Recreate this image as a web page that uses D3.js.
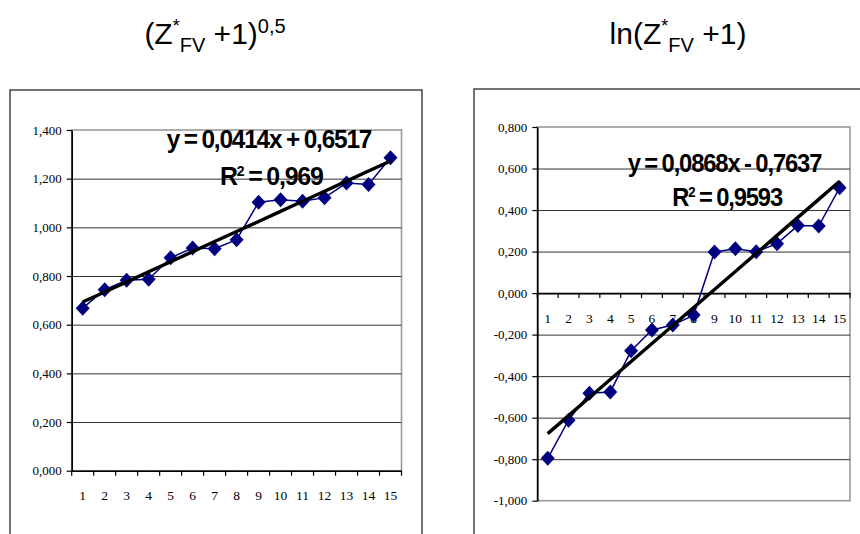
<!DOCTYPE html>
<html>
<head>
<meta charset="utf-8">
<script src="https://cdn.jsdelivr.net/npm/d3@7"></script>
<style>
  html, body { margin: 0; padding: 0; background: #ffffff; }
  svg { display: block; }
</style>
</head>
<body>
<svg id="chart" width="860" height="534"></svg>
<script>
// ---------------- data ----------------
const categories = ["1","2","3","4","5","6","7","8","9","10","11","12","13","14","15"];
const sqrtValues = [0.668, 0.744, 0.783, 0.787, 0.875, 0.915, 0.912, 0.949, 1.103, 1.113, 1.107, 1.122, 1.182, 1.176, 1.286];
const lnValues   = [-0.796, -0.612, -0.482, -0.476, -0.278, -0.178, -0.154, -0.106, 0.198, 0.214, 0.199, 0.238, 0.325, 0.323, 0.507];
const sqrtTicks  = [0, 0.2, 0.4, 0.6, 0.8, 1.0, 1.2, 1.4];
const lnTicks    = [-1.0, -0.8, -0.6, -0.4, -0.2, 0, 0.2, 0.4, 0.6, 0.8];
const sqrtTrend  = {slope: 0.0414, intercept: 0.6517};
const lnTrend    = {slope: 0.0868, intercept: -0.7637};
const sqrtEqText = "y = 0,0414x + 0,6517";
const sqrtR2Text = "0,969";
const lnEqText   = "y = 0,0868x - 0,7637";
const lnR2Text   = "0,9593";

const fmt = d => (d < 0 ? "-" : "") + Math.abs(d).toFixed(3).replace(".", ",");

const svg = d3.select("#chart");

function drawTitle(cx, parts) {
  const t = svg.append("text")
    .attr("x", cx).attr("y", 44)
    .attr("text-anchor", "middle")
    .attr("font-family", "Liberation Sans, Arial, sans-serif")
    .attr("font-size", 30)
    .attr("fill", "#000");
  parts.forEach(p => {
    const s = t.append("tspan").text(p.t);
    if (p.size) s.attr("font-size", p.size);
    if (p.dy !== undefined) s.attr("dy", p.dy);
  });
}

function fitText(x, baseline, width, build) {
  const g = svg.append("g");
  const t = g.append("text")
    .attr("x", 0).attr("y", 0)
    .attr("font-family", "Liberation Sans, Arial, sans-serif")
    .attr("font-weight", "bold")
    .attr("font-size", 25)
    .attr("letter-spacing", -1.2)
    .attr("word-spacing", -1)
    .attr("fill", "#000");
  build(t);
  const bb = t.node().getBBox();
  const sx = width / bb.width;
  g.attr("transform", `translate(${x - bb.x * sx},${baseline}) scale(${sx},1)`);
}

function drawChart(cfg) {
  // outer frame
  svg.append("rect")
    .attr("x", cfg.box[0]).attr("y", cfg.box[1])
    .attr("width", cfg.box[2]).attr("height", cfg.box[3])
    .attr("fill", "none").attr("stroke", "#2a2a2a").attr("stroke-width", 1.3);

  const x = d3.scaleBand().domain(categories).range([cfg.left, cfg.right]);
  const y = d3.scaleLinear().domain(cfg.domain).range([cfg.bottom, cfg.top]);

  // plot area border (grey)
  svg.append("rect")
    .attr("x", cfg.left).attr("y", cfg.top)
    .attr("width", cfg.right - cfg.left).attr("height", cfg.bottom - cfg.top)
    .attr("fill", "none").attr("stroke", "#9a9a9a").attr("stroke-width", 1.6);

  // gridlines
  const grid = svg.append("g")
    .attr("transform", `translate(${cfg.left},0)`)
    .call(d3.axisLeft(y).tickValues(cfg.ticks.filter(v => v !== cfg.domain[0] && v !== cfg.domain[1]))
      .tickSize(-(cfg.right - cfg.left)).tickFormat(""));
  grid.select(".domain").remove();
  grid.selectAll("line").attr("stroke", "#333").attr("stroke-width", 1);

  // y axis
  const ya = svg.append("g")
    .attr("transform", `translate(${cfg.left},0)`)
    .call(d3.axisLeft(y).tickValues(cfg.ticks).tickFormat(fmt).tickSize(5).tickPadding(5).tickSizeOuter(0));
  ya.select(".domain").attr("stroke", "#000").attr("stroke-width", 1.6);
  ya.selectAll("line").attr("stroke", "#000").attr("stroke-width", 1.2);
  ya.selectAll("text")
    .attr("font-family", "Liberation Serif, Times New Roman, serif")
    .attr("font-size", 13).attr("fill", "#000");

  // x axis at y = 0
  const y0 = y(0);
  const xa = svg.append("g")
    .attr("transform", `translate(0,${y0})`)
    .call(d3.axisBottom(x).tickSize(0).tickPadding(20).tickSizeOuter(0));
  xa.select(".domain").attr("stroke", "#000").attr("stroke-width", 1.6);
  xa.selectAll("text")
    .attr("font-family", "Liberation Serif, Times New Roman, serif")
    .attr("font-size", 13.5).attr("fill", "#000");
  // tick marks at category boundaries
  const bounds = d3.range(categories.length + 1).map(i => cfg.left + i * x.step());
  xa.selectAll(".bt").data(bounds).enter().append("line")
    .attr("x1", d => d).attr("x2", d => d).attr("y1", 0).attr("y2", 5)
    .attr("stroke", "#000").attr("stroke-width", 1.2);

  const cx = d => x(d) + x.bandwidth() / 2;

  // series line
  const line = d3.line().x((d, i) => cx(categories[i])).y(d => y(d));
  svg.append("path").datum(cfg.values)
    .attr("d", line).attr("fill", "none")
    .attr("stroke", "#000080").attr("stroke-width", 1.5);

  // diamonds
  svg.selectAll(null).data(cfg.values).enter().append("path")
    .attr("d", "M0,-7.5L7,0L0,7.5L-7,0Z")
    .attr("transform", (d, i) => `translate(${cx(categories[i])},${y(d)})`)
    .attr("fill", "#000080");

  // trendline
  const trendVals = categories.map(c => cfg.trend.slope * (+c) + cfg.trend.intercept);
  svg.append("path").datum(trendVals)
    .attr("d", line).attr("fill", "none")
    .attr("stroke", "#000").attr("stroke-width", 3.4);

  // equation labels
  fitText(cfg.eq[0], cfg.eq[1], cfg.eq[2], t => t.text(cfg.eqText));
  fitText(cfg.r2[0], cfg.r2[1], cfg.r2[2], t => {
    t.append("tspan").text("R");
    t.append("tspan").text("2").attr("font-size", 14).attr("dy", -9);
    t.append("tspan").text(" = " + cfg.r2Text).attr("dy", 9);
  });
}

drawTitle(215, [
  {t: "(Z"}, {t: "*", size: 18, dy: -12}, {t: "FV", size: 20, dy: 20}, {t: " +1)", dy: -8}, {t: "0,5", size: 20, dy: -11}
]);
drawTitle(678, [
  {t: "ln(Z"}, {t: "*", size: 18, dy: -12}, {t: "FV", size: 20, dy: 20}, {t: " +1)", dy: -8}
]);

drawChart({
  box: [10, 90, 412, 470],
  left: 71.7, right: 401.5, top: 130, bottom: 470.7,
  domain: [0, 1.4], ticks: sqrtTicks, values: sqrtValues, trend: sqrtTrend,
  eqText: sqrtEqText, r2Text: sqrtR2Text,
  eq: [166.7, 148.3, 205], r2: [220, 185, 103]
});
drawChart({
  box: [474, 89, 420, 470],
  left: 537.3, right: 850, top: 127, bottom: 500.7,
  domain: [-1, 0.8], ticks: lnTicks, values: lnValues, trend: lnTrend,
  eqText: lnEqText, r2Text: lnR2Text,
  eq: [627.7, 172, 194], r2: [672.3, 206, 110]
});
</script>
</body>
</html>
